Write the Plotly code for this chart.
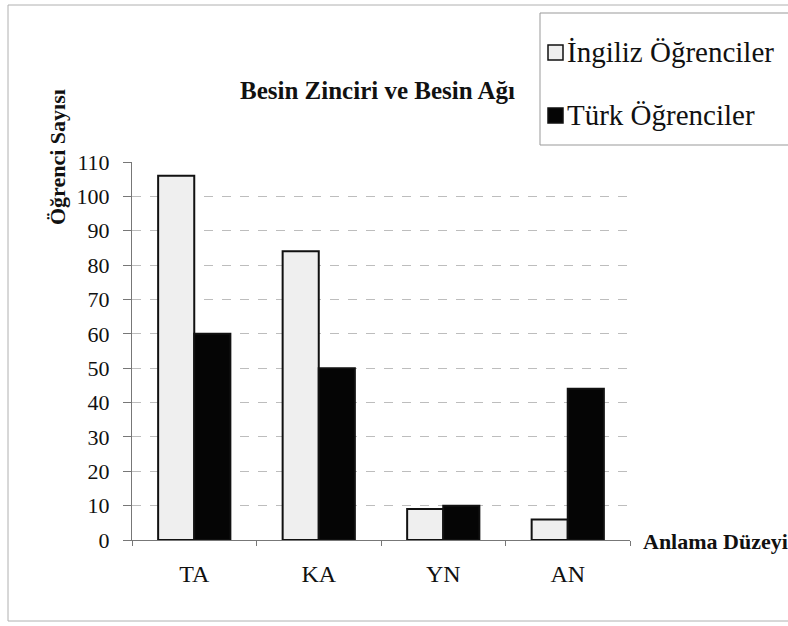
import plotly.graph_objects as go

categories = ["TA", "KA", "YN", "AN"]
series_names = ["İngiliz Öğrenciler", "Türk Öğrenciler"]
ingiliz = [106, 84, 9, 6]
turk = [60, 50, 10, 44]
y_ticks = list(range(0, 111, 10))

W, H = 788, 626
L, R, T, B = 132, 630, 162, 540

def px(x):
    return (x - L) / (R - L)

def py(y):
    return (B - y) / (B - T)

serif = "Liberation Serif"

fig = go.Figure()
fig.add_trace(go.Bar(x=categories, y=ingiliz, name=series_names[0],
                     marker=dict(color="#efefef", line=dict(color="#111", width=2))))
fig.add_trace(go.Bar(x=categories, y=turk, name=series_names[1],
                     marker=dict(color="#050505", line=dict(color="#111", width=2))))

fig.update_layout(
    width=W, height=H,
    margin=dict(l=L, r=W - R, t=T, b=H - B),
    paper_bgcolor="white", plot_bgcolor="white",
    barmode="group", bargap=0.42, bargroupgap=0,
    showlegend=False,
    font=dict(family=serif, color="#111"),
    xaxis=dict(showgrid=False, showline=True, linecolor="#777", linewidth=1,
               ticks="outside", tickson="boundaries", ticklen=5, tickcolor="#777",
               tickfont=dict(size=24, family=serif, color="#111"),
               ticklabelstandoff=12),
    yaxis=dict(range=[0, 110], tickvals=y_ticks, showgrid=True,
               gridcolor="#bdbdbd", griddash="dash", gridwidth=1,
               showline=True, linecolor="#777", linewidth=1,
               ticks="outside", ticklen=8, tickcolor="#777",
               tickfont=dict(size=22, family=serif, color="#111"),
               ticklabelstandoff=9, zeroline=False),
)

shapes = []
shapes.append(dict(type="rect", xref="paper", yref="paper",
                   x0=px(8), x1=px(800), y0=py(621), y1=py(5),
                   line=dict(color="#b0b0b0", width=1), layer="below"))
shapes.append(dict(type="rect", xref="paper", yref="paper",
                   x0=px(540), x1=px(800), y0=py(145), y1=py(13),
                   line=dict(color="#999", width=1), fillcolor="white"))
shapes.append(dict(type="rect", xref="paper", yref="paper",
                   x0=px(548), x1=px(563), y0=py(60), y1=py(45),
                   line=dict(color="#111", width=1.5), fillcolor="#efefef"))
shapes.append(dict(type="rect", xref="paper", yref="paper",
                   x0=px(548), x1=px(563), y0=py(123), y1=py(108),
                   line=dict(color="#111", width=1.5), fillcolor="#050505"))
fig.update_layout(shapes=shapes)

ann = []
ann.append(dict(text=series_names[0], xref="paper", yref="paper", x=px(565), y=py(52),
                xanchor="left", yanchor="middle", showarrow=False,
                font=dict(size=29, family=serif, color="#111")))
ann.append(dict(text=series_names[1], xref="paper", yref="paper", x=px(565), y=py(115),
                xanchor="left", yanchor="middle", showarrow=False,
                font=dict(size=29, family=serif, color="#111")))
ann.append(dict(text="<b>Besin Zinciri ve Besin Ağı</b>", xref="paper", yref="paper",
                x=px(377), y=py(90), xanchor="center", yanchor="middle", showarrow=False,
                font=dict(size=25, family=serif, color="#111")))
ann.append(dict(text="<b>Öğrenci Sayısı</b>", xref="paper", yref="paper",
                x=px(57), y=py(157), xanchor="center", yanchor="middle", showarrow=False,
                textangle=-90, font=dict(size=22, family=serif, color="#111")))
ann.append(dict(text="<b>Anlama Düzeyi</b>", xref="paper", yref="paper",
                x=px(641), y=py(541), xanchor="left", yanchor="middle", showarrow=False,
                font=dict(size=22, family=serif, color="#111")))
fig.update_layout(annotations=ann)

fig.write_html("out.html", config={"displayModeBar": False},
               post_script="document.body.style.margin='0';document.body.style.overflow='hidden';")
